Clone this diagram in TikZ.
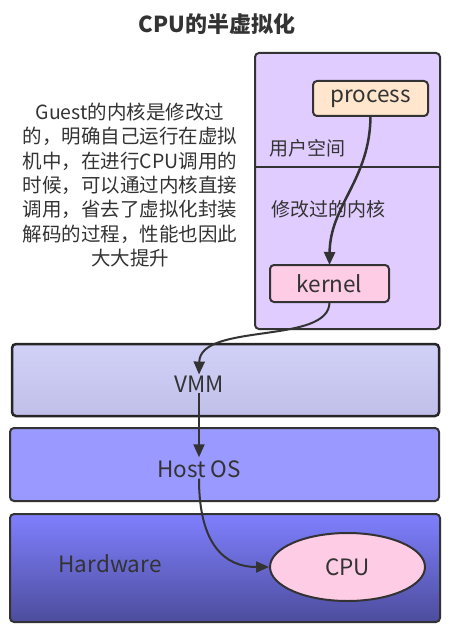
\documentclass[tikz,border=0pt]{standalone}
\usepackage{fontspec}
\setmainfont{Noto Sans CJK SC}
\usetikzlibrary{arrows.meta,shapes.geometric}

\definecolor{ink}{HTML}{333333}
\definecolor{guestfill}{HTML}{E1CCFF}
\definecolor{procfill}{HTML}{FFE6CC}
\definecolor{kernfill}{HTML}{FFCCE6}
\definecolor{hostfill}{HTML}{9999FF}

\tikzset{
  box/.style={draw=ink, line width=2pt, rounded corners=4pt, inner sep=0pt, outer sep=0pt},
  lbl/.style={text=ink, font=\fontsize{22.5}{26}\selectfont, inner sep=1pt},
  cjklbl/.style={text=ink, font=\fontsize{19}{23}\selectfont, inner sep=1pt},
  flow/.style={draw=ink, line width=2pt, -{Triangle[length=13pt,width=11pt]}}
}

\begin{document}
\begin{tikzpicture}[x=1pt, y=-1pt]
\useasboundingbox (0,0) rectangle (457,639);

\node[text=ink, font=\fontsize{22}{26}\selectfont\bfseries] (title) at (217,24) {CPU的半虚拟化};

% guest side
\node[box, fill=guestfill, minimum width=185pt, minimum height=276pt] (guest) at (347.5,191) {};
\draw[ink, line width=2pt] (guest.west |- 0,167) -- (guest.east |- 0,167);
\node[cjklbl, anchor=west] (user) at (268,148) {用户空间};
\node[cjklbl, anchor=west] (modk) at (270,209) {修改过的内核};
\node[box, fill=procfill, minimum width=115pt, minimum height=35pt, lbl] (proc) at (370.5,98.5) {process};
\node[box, fill=kernfill, minimum width=119pt, minimum height=37pt, lbl] (kern) at (329.5,283.5) {kernel};

\node[cjklbl, align=center, font=\fontsize{19.5}{24.3}\selectfont] (note) at (130,185)
  {Guest的内核是修改过\\的，明确自己运行在虚拟\\机中，在进行CPU调用的\\时候，可以通过内核直接\\调用，省去了虚拟化封装\\解码的过程，性能也因此\\大大提升};

% host side
\node[box, draw=black!85, line width=2.5pt, top color=black!15!blue!18, bottom color=black!35!blue!25!white, minimum width=427pt, minimum height=72pt] (vmm) at (225.5,380) {};
\node[box, fill=hostfill, minimum width=429pt, minimum height=73pt] (host) at (224.5,464.5) {};
\node[box, top color=blue!50!white, bottom color=blue!45!black!70!white, minimum width=430pt, minimum height=108pt] (hw) at (225,568) {};
\node[lbl] (vmmtxt) at (199,384) {VMM};
\node[lbl] (hosttxt) at (199,469) {Host OS};
\node[lbl] (hwtxt) at (110,564) {Hardware};
\node[ellipse, draw=ink, line width=2pt, fill=kernfill, minimum width=155pt, minimum height=68pt, lbl] (cpu) at (347.5,567) {CPU};

\draw[flow, line width=2.5pt] (proc.south) .. controls (370,180) and (330,205) .. (kern.north);
\draw[flow] (kern.south) .. controls (330,345) and (200,322) .. (vmmtxt.north);
\draw[flow, shorten >=2pt] (vmmtxt.south) -- (hosttxt.north);
\draw[flow] (hosttxt.south) .. controls (199,545) and (225,567) .. (cpu.west);
\end{tikzpicture}
\end{document}
